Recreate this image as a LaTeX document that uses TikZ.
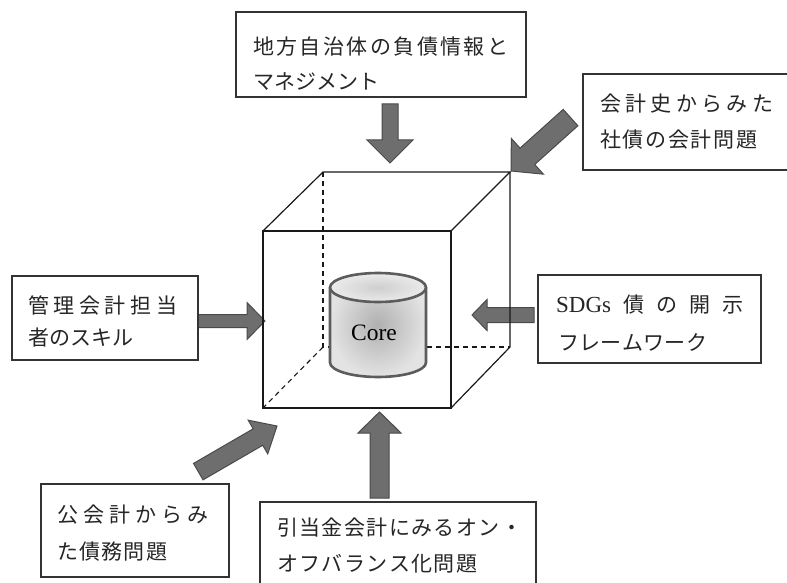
\documentclass[tikz,border=0pt]{standalone}
\usepackage{fontspec}
\setmainfont{Liberation Serif}
\newfontfamily\jp{Noto Sans CJK JP}
\definecolor{boxc}{HTML}{333333}
\definecolor{arrfill}{HTML}{6E6E6E}
\definecolor{arrline}{HTML}{4A4A4A}
\definecolor{cylline}{HTML}{5C5C5C}
\tikzset{
  box/.style={draw=boxc, line width=1.2pt, fill=white, inner sep=0pt, outer sep=0pt, anchor=north west},
  txt/.style={anchor=west, inner sep=0pt, font=\jp\fontsize{21}{21}\selectfont, text=black!85},
  blk/.style={fill=arrfill, draw=arrline, line width=1pt, line join=miter},
  cubeline/.style={draw=black!90, line width=1.2pt},
  hidden/.style={draw=black!90, line width=1.1pt, dash pattern=on 5pt off 4pt},
}
\newcommand\blockarrow[6]{%
  \begin{scope}[shift={(#1)}, rotate=#2]
    \draw[blk] (0,0) -- (-#6,#5) -- (-#6,#4) -- (-#3,#4) -- (-#3,-#4) -- (-#6,-#4) -- (-#6,-#5) -- cycle;
  \end{scope}}
\begin{document}
\begin{tikzpicture}[x=1pt,y=-1pt]
\clip (0,0) rectangle (787,583);
\fill[white] (0,0) rectangle (787,583);
% cube corners
\coordinate (f1) at (263,231); \coordinate (f2) at (451,231);
\coordinate (f3) at (451,408); \coordinate (f4) at (263,408);
\coordinate (k1) at (323,172); \coordinate (k2) at (510,172);
\coordinate (k3) at (510,347); \coordinate (k4) at (323,347);
% hidden edges
\draw[hidden] (k1) -- (k4) -- (k3);
\draw[hidden] (k4) -- (f4);
% cylinder
\shade[inner color=gray!62, outer color=gray!22]
  (330,287.5) -- (330,362.5) arc[start angle=180, end angle=360, x radius=48pt, y radius=14.5pt]
  -- (426,287.5) arc[start angle=0, end angle=180, x radius=48pt, y radius=14.5pt] -- cycle;
\draw[cylline, line width=2.6pt]
  (330,287.5) -- (330,362.5) arc[start angle=180, end angle=360, x radius=48pt, y radius=14.5pt]
  -- (426,287.5);
\shade[inner color=gray!38, outer color=gray!16] (378,287.5) ellipse[x radius=48pt, y radius=14.5pt];
\draw[cylline, line width=2.6pt] (378,287.5) ellipse[x radius=48pt, y radius=14.5pt];
\node[font=\fontsize{23.5}{24}\selectfont, inner sep=0pt] (core) at (374,333) {Core};
% arrow tips
\coordinate (tT) at (390,163);
\coordinate (tTR) at (511,171);
\coordinate (tL) at (265,321);
\coordinate (tR) at (472,315);
\coordinate (tBL) at (277,426);
\coordinate (tB) at (379.5,412);
\blockarrow{tT}{-90}{59}{8}{23}{23}
\blockarrow{tTR}{-138.1}{80}{11}{24}{22}
\blockarrow{tL}{0}{70}{6.5}{18.5}{18}
\blockarrow{tR}{180}{62}{7.5}{15.5}{15}
\blockarrow{tBL}{30.1}{91}{9.5}{19.5}{22}
\blockarrow{tB}{90}{86}{9.5}{21.5}{21}
% cube visible edges
\draw[cubeline] (f1) -- (f2) -- (f3) -- (f4) -- cycle;
\draw[cubeline] (f1) -- (k1) -- (k2) -- (f2);
\draw[cubeline] (k2) -- (k3) -- (f3);
% boxes
\node[box, minimum width=290pt, minimum height=85pt] (bT) at (236,12) {};
\node[box, minimum width=217pt, minimum height=96pt] (bTR) at (583,74) {};
\node[box, minimum width=186pt, minimum height=84pt] (bL) at (12,276) {};
\node[box, minimum width=223pt, minimum height=88pt] (bR) at (538,275) {};
\node[box, minimum width=188pt, minimum height=93pt] (bBL) at (41,484) {};
\node[box, minimum width=276pt, minimum height=98pt] (bB) at (260,502) {};
% texts
\node[txt] (t1a) at (253,47) {\makebox[255pt][l]{地\hfill 方\hfill 自\hfill 治\hfill 体\hfill の\hfill 負\hfill 債\hfill 情\hfill 報\hfill と}};
\node[txt] (t1b) at (253,82) {\makebox[122pt][l]{マ\hfill ネ\hfill ジ\hfill メ\hfill ン\hfill ト}};
\node[txt] (t2a) at (600,104) {\makebox[173pt][l]{会\hfill 計\hfill 史\hfill か\hfill ら\hfill み\hfill た}};
\node[txt] (t2b) at (600,140) {\makebox[157pt][l]{社\hfill 債\hfill の\hfill 会\hfill 計\hfill 問\hfill 題}};
\node[txt] (t3a) at (28,305) {\makebox[149pt][l]{管\hfill 理\hfill 会\hfill 計\hfill 担\hfill 当}};
\node[txt] (t3b) at (28,338) {\makebox[104pt][l]{者\hfill の\hfill ス\hfill キ\hfill ル}};
\node[txt] (t4a) at (556,305) {\makebox[187pt][l]{{\rmfamily\fontsize{23}{23}\selectfont SDGs}\hfill 債\hfill の\hfill 開\hfill 示}};
\node[txt] (t4b) at (558,342) {\makebox[149pt][l]{フ\hfill レ\hfill ー\hfill ム\hfill ワ\hfill ー\hfill ク}};
\node[txt] (t5a) at (57,515) {\makebox[151pt][l]{公\hfill 会\hfill 計\hfill か\hfill ら\hfill み}};
\node[txt] (t5b) at (57,552) {\makebox[110pt][l]{た\hfill 債\hfill 務\hfill 問\hfill 題}};
\node[txt] (t6a) at (277,528) {\makebox[245pt][l]{引\hfill 当\hfill 金\hfill 会\hfill 計\hfill に\hfill み\hfill る\hfill オ\hfill ン\hfill ・}};
\node[txt] (t6b) at (277,564) {\makebox[200pt][l]{オ\hfill フ\hfill バ\hfill ラ\hfill ン\hfill ス\hfill 化\hfill 問\hfill 題}};
\end{tikzpicture}
\end{document}
